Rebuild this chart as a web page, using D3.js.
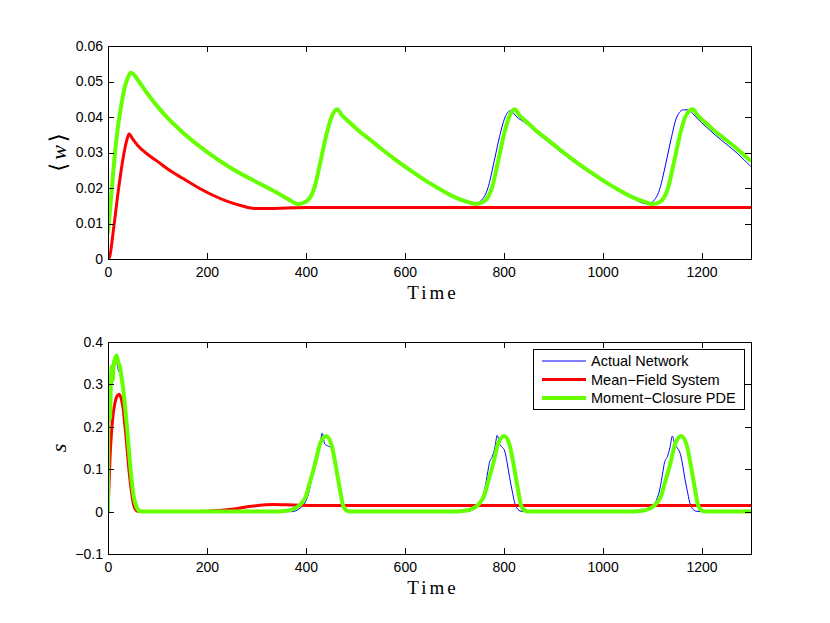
<!DOCTYPE html>
<html>
<head>
<meta charset="utf-8">
<script src="https://cdn.jsdelivr.net/npm/d3@7.9.0/dist/d3.min.js"></script>
<style>
  body { margin: 0; background: #fff; }
  svg { display: block; }
  .tick text { font-family: "Liberation Sans", Arial, sans-serif; font-size: 14px; fill: #000; }
  .tick line { stroke: #000; }
</style>
</head>
<body>
<svg id="chart" width="830" height="623"></svg>
<script>
// ---- data ----
const timeTicks = [0, 200, 400, 600, 800, 1000, 1200];
const wTicks = [0, 0.01, 0.02, 0.03, 0.04, 0.05, 0.06];
const sTicks = [-0.1, 0, 0.1, 0.2, 0.3, 0.4];
const seriesNames = ['Actual Network', 'Mean\u2212Field System', 'Moment\u2212Closure PDE'];

// top panel: <w>
const wGreenT = [0, 4, 9, 14, 19, 24, 29, 34, 40, 46, 52, 60, 80, 100, 120, 150, 200, 250, 300, 340, 365, 385,
  400, 418, 425, 432, 439, 452, 463, 473, 488, 508, 528, 553, 583, 613, 643, 673, 703, 728, 744,
  759, 777, 784, 791, 798, 811, 822, 832, 847, 867, 887, 912, 942, 972, 1002, 1032, 1062, 1087, 1100,
  1115, 1133, 1140, 1147, 1154, 1167, 1182, 1192, 1207, 1227, 1247, 1272, 1300];
const wGreen = [0.0072, 0.0138, 0.022, 0.0298, 0.036, 0.041, 0.045, 0.0485, 0.051, 0.0525, 0.052, 0.0505, 0.0465, 0.043, 0.0398, 0.0358, 0.0302, 0.0255, 0.0217, 0.0188, 0.0168, 0.0155,
  0.0161, 0.0204, 0.0245, 0.029, 0.0335, 0.040, 0.0422, 0.0405, 0.0385, 0.036, 0.0338, 0.031, 0.0278, 0.0248, 0.022, 0.0195, 0.0173, 0.016, 0.0155,
  0.0161, 0.0204, 0.0245, 0.029, 0.0335, 0.040, 0.0422, 0.0405, 0.0385, 0.036, 0.0338, 0.031, 0.0278, 0.0248, 0.022, 0.0195, 0.0173, 0.016, 0.0155,
  0.016, 0.0204, 0.0245, 0.029, 0.0335, 0.040, 0.0422, 0.0405, 0.0385, 0.036, 0.0338, 0.031, 0.0275];

const wRedT = [0, 3, 11, 21, 31, 38, 42.5, 50, 60, 80, 100, 120, 150, 180, 210, 240, 270, 300, 330, 360, 400, 1300];
const wRed = [0, 0.0005, 0.0082, 0.0194, 0.0288, 0.0335, 0.0352, 0.0338, 0.032, 0.0295, 0.0275, 0.0254, 0.0228, 0.0203, 0.0181, 0.0163, 0.015, 0.0142, 0.0142, 0.0144, 0.0145, 0.0145];

const wBlueT = [0, 4, 9, 14, 19, 24, 29, 34, 40, 46, 52, 60, 80, 100, 120, 150, 200, 250, 300, 340, 365, 385,
  400, 418, 425, 432, 439, 452, 463, 473, 488, 508, 528, 553, 583, 613, 643, 673, 703, 725, 740,
  751, 769, 776, 783, 790, 803, 814, 825, 847, 867, 887, 912, 942, 972, 1002, 1032, 1062, 1080, 1092,
  1101, 1117, 1124, 1131, 1138, 1150, 1163, 1173, 1182, 1192, 1207, 1227, 1247, 1272, 1300];
const wBlue = [0.0072, 0.0138, 0.022, 0.0298, 0.036, 0.041, 0.045, 0.0485, 0.051, 0.0525, 0.052, 0.0505, 0.0465, 0.043, 0.0398, 0.0358, 0.0302, 0.0255, 0.0217, 0.0188, 0.0168, 0.0155,
  0.0161, 0.0204, 0.0245, 0.029, 0.0335, 0.040, 0.0422, 0.0405, 0.0385, 0.036, 0.0338, 0.031, 0.0278, 0.0248, 0.022, 0.0195, 0.0173, 0.016, 0.0155,
  0.0161, 0.0204, 0.0245, 0.029, 0.0335, 0.040, 0.0418, 0.0402, 0.038, 0.0355, 0.0333, 0.0305, 0.0273, 0.0244, 0.0217, 0.0192, 0.017, 0.0158, 0.0155,
  0.0161, 0.0204, 0.0245, 0.029, 0.0335, 0.040, 0.042, 0.042, 0.041, 0.0395, 0.0375, 0.035, 0.0327, 0.0298, 0.026];

// bottom panel: s
const sGreenT = [0, 1, 2.5, 4, 5.5, 7.5, 9.5, 11.5, 14, 17.5, 21, 24, 27, 31, 37.7, 44.5, 51, 58, 65, 80,
  331, 361, 375, 388, 400, 408, 419, 429, 441, 452, 462, 469, 476, 486, 500,
  691, 721, 735, 748, 760, 768, 779, 789, 801, 812, 822, 829, 836, 846, 860,
  1049, 1079, 1093, 1106, 1118, 1126, 1137, 1147, 1159, 1170, 1180, 1187, 1194, 1204, 1218, 1300];
const sGreen = [0, 0.27, 0.26, 0.22, 0.29, 0.342, 0.31, 0.345, 0.36, 0.368, 0.35, 0.343, 0.32, 0.287, 0.208, 0.114, 0.0435, 0.01, 0.001, 0,
  0, 0.002, 0.006, 0.016, 0.036, 0.068, 0.114, 0.161, 0.1785, 0.157, 0.098, 0.051, 0.012, 0.001, 0,
  0, 0.002, 0.006, 0.016, 0.036, 0.068, 0.114, 0.161, 0.1785, 0.157, 0.098, 0.051, 0.012, 0.001, 0,
  0, 0.002, 0.006, 0.016, 0.036, 0.068, 0.114, 0.161, 0.1785, 0.157, 0.098, 0.051, 0.012, 0.001, 0, 0];

const sRedT = [0, 2, 4, 7, 10, 14, 18, 22.5, 27, 31, 34, 37.7, 41, 44.5, 48, 51, 55, 60, 70, 150, 200, 250, 290, 335, 375, 420, 1300];
const sRed = [0, 0.06, 0.125, 0.185, 0.225, 0.256, 0.272, 0.277, 0.265, 0.24, 0.205, 0.161, 0.115, 0.075, 0.042, 0.02, 0.006, 0.001, 0, 0, 0.001, 0.0055, 0.0125, 0.0165, 0.0155, 0.0145, 0.0145];

const sBlueT = [0, 1, 3, 5, 7, 9, 11, 13, 16, 19, 22, 25, 28, 31, 37.7, 44.5, 51, 58, 65, 80,
  373, 388, 398, 408, 414, 417, 423, 428, 433, 438, 444, 452, 460, 467, 474, 482, 495,
  727, 742, 752, 762, 768, 771, 777, 782, 787, 792, 797, 802, 807, 812, 817, 822, 827, 835, 847,
  1081, 1096, 1106, 1116, 1122, 1125, 1131, 1136, 1141, 1146, 1151, 1156, 1161, 1166, 1171, 1176, 1181, 1189, 1201, 1300];
const sBlue = [0, 0.25, 0.2, 0.3, 0.33, 0.3, 0.357, 0.34, 0.36, 0.345, 0.33, 0.335, 0.30, 0.28, 0.205, 0.11, 0.04, 0.008, 0, 0,
  0, 0.008, 0.02, 0.055, 0.095, 0.118, 0.13, 0.15, 0.185, 0.16, 0.155, 0.15, 0.105, 0.055, 0.018, 0.003, 0,
  0, 0.008, 0.02, 0.055, 0.095, 0.115, 0.13, 0.15, 0.18, 0.158, 0.152, 0.143, 0.115, 0.08, 0.05, 0.022, 0.008, 0.001, 0,
  0, 0.008, 0.02, 0.055, 0.095, 0.115, 0.13, 0.15, 0.178, 0.158, 0.15, 0.14, 0.115, 0.08, 0.05, 0.022, 0.008, 0.001, 0, 0];

// ---- drawing ----
const svg = d3.select('#chart');
svg.append('rect').attr('width', 830).attr('height', 623).attr('fill', '#fff');

const colors = ['#0000ff', '#ff0000', '#66ff00'];
const widths = [1, 3, 4];

const x = d3.scaleLinear().domain([0, 1300]).range([108, 751]);

const panels = [
  { id: 'w', top: 46, bottom: 259, domain: [0, 0.06], ticks: wTicks, fmt: d => d === 0 ? '0' : d3.format('.2f')(d),
    series: [[wBlueT, wBlue], [wRedT, wRed], [wGreenT, wGreen]] },
  { id: 's', top: 342, bottom: 554, domain: [-0.1, 0.4], ticks: sTicks, fmt: d => d === 0 ? '0' : d3.format('.1f')(d),
    series: [[sBlueT, sBlue], [sRedT, sRed], [sGreenT, sGreen]] }
];

panels.forEach((p, pi) => {
  let y = d3.scaleLinear().domain(p.domain).range([p.bottom, p.top]);
  let g = svg.append('g');

  g.append('clipPath').attr('id', 'clip' + pi)
    .append('rect').attr('x', 108).attr('y', p.top).attr('width', 643).attr('height', p.bottom - p.top);

  let line = d3.line()
    .x(d => x(d[0]))
    .y(d => y(d[1]))
    .curve(d3.curveMonotoneX);

  p.series.forEach(([ts, vs], i) => {
    g.append('path')
      .attr('d', line(d3.zip(ts, vs)))
      .attr('fill', 'none')
      .attr('stroke', colors[i])
      .attr('stroke-width', widths[i])
      .attr('stroke-linejoin', 'round')
      .attr('clip-path', `url(#clip${pi})`);
  });

  // axes with inward ticks on all four sides
  let left = g.append('g').attr('transform', 'translate(108,0)')
    .call(d3.axisLeft(y).tickValues(p.ticks).tickSize(-6).tickPadding(5).tickFormat(p.fmt));
  let right = g.append('g').attr('transform', 'translate(751,0)')
    .call(d3.axisRight(y).tickValues(p.ticks).tickSize(-6).tickFormat(''));
  let bottom = g.append('g').attr('transform', `translate(0,${p.bottom})`)
    .call(d3.axisBottom(x).tickValues(timeTicks).tickSize(-6).tickPadding(8).tickFormat(d3.format('d')));
  let top = g.append('g').attr('transform', `translate(0,${p.top})`)
    .call(d3.axisTop(x).tickValues(timeTicks).tickSize(-6).tickFormat(''));
  [left, right, bottom, top].forEach(a => {
    a.select('.domain').remove();
    a.selectAll('line').attr('shape-rendering', 'crispEdges');
  });

  g.append('rect')
    .attr('x', 108.5).attr('y', p.top + 0.5)
    .attr('width', 643).attr('height', p.bottom - p.top)
    .attr('fill', 'none').attr('stroke', '#000').attr('stroke-width', 1);

  // x label
  g.append('text')
    .attr('x', 433).attr('y', p.bottom + 40)
    .attr('text-anchor', 'middle')
    .attr('font-family', '"Liberation Serif", "DejaVu Serif", serif')
    .attr('font-size', 19)
    .attr('letter-spacing', 3)
    .text('Time');

  // y label
  let yl = g.append('text')
    .attr('transform', `translate(66,${(p.top + p.bottom) / 2}) rotate(-90)`)
    .attr('text-anchor', 'middle')
    .attr('font-family', '"Liberation Serif", "DejaVu Serif", serif')
    .attr('font-size', 22);
  if (p.id === 'w') {
    yl.append('tspan').attr('font-family', '"DejaVu Serif", serif').attr('font-size', 23).text('\u27e8');
    yl.append('tspan').attr('font-style', 'italic').attr('dx', 3).text('w');
    yl.append('tspan').attr('font-family', '"DejaVu Serif", serif').attr('font-size', 23).attr('dx', 3).text('\u27e9');
  } else {
    yl.append('tspan').attr('font-style', 'italic').text('s');
  }

  // legend in the lower panel
  if (p.id === 's') {
    let lg = g.append('g');
    lg.append('rect')
      .attr('x', 533.5).attr('y', 349.5).attr('width', 211).attr('height', 60)
      .attr('fill', '#fff').attr('stroke', '#000').attr('stroke-width', 1);
    seriesNames.forEach((name, i) => {
      let yy = 361 + i * 18.5;
      lg.append('line')
        .attr('x1', 542).attr('x2', 586).attr('y1', yy).attr('y2', yy)
        .attr('stroke', colors[i]).attr('stroke-width', widths[i]);
      lg.append('text')
        .attr('x', 591).attr('y', yy).attr('dy', '0.36em')
        .attr('font-family', '"Liberation Sans", Arial, sans-serif')
        .attr('font-size', 14.5)
        .text(name);
    });
  }
});
</script>
</body>
</html>
